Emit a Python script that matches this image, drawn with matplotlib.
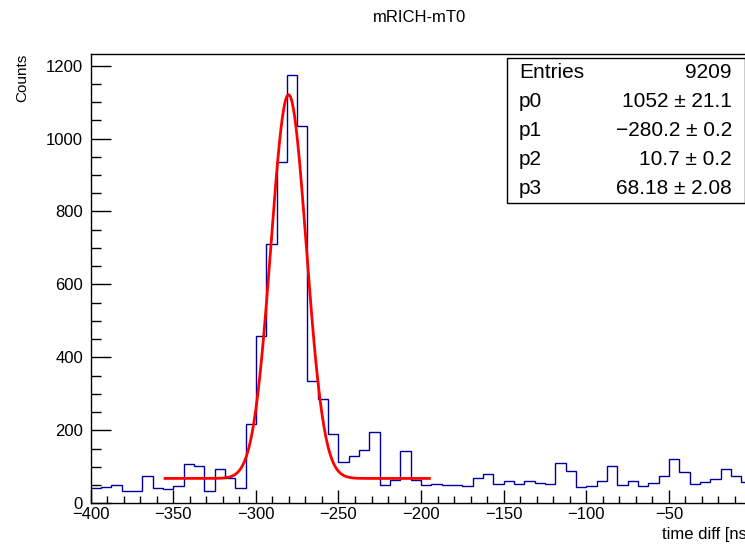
import numpy as np
import matplotlib.pyplot as plt
from matplotlib.ticker import MultipleLocator, FuncFormatter
from matplotlib.patches import Rectangle

plt.rcParams['font.family'] = ['Liberation Sans', 'DejaVu Sans']

# histogram: 64 bins of 6.25 ns between -400 and 0
bin_edges = np.linspace(-400, 0, 65)
counts = [41, 44, 49, 35, 35, 74, 43, 38, 47, 107, 102, 35, 95, 69, 43,
          217, 459, 710, 937, 1173, 1033, 336, 285, 189, 114, 130, 146, 195,
          50, 63, 144, 63, 49, 53, 50, 49, 47, 70, 80, 54, 61, 54, 60, 55, 53,
          111, 89, 45, 48, 61, 103, 50, 60, 47, 57, 75, 122, 86, 54, 58, 66,
          93, 75, 59]

# gaus + pol0 fit result
p0, p1, p2, p3 = 1052, -280.2, 10.7, 68.18
fit_range = (-355, -195)
stat_names = ['Entries', 'p0', 'p1', 'p2', 'p3']
stat_values = ['9209', '1052 ± 21.1', '−280.2 ± 0.2', '10.7 ± 0.2', '68.18 ± 2.08']

fig = plt.figure(figsize=(7.45, 5.44), dpi=100)
ax = fig.add_axes([0.1217, 0.0748, 0.887, 0.8259])

ax.stairs(counts, bin_edges, color='#000099', lw=1.0, baseline=None)

xf = np.linspace(fit_range[0], fit_range[1], 400)
yf = p0 * np.exp(-0.5 * ((xf - p1) / p2) ** 2) + p3
ax.plot(xf, yf, color='#ff0000', lw=2.0)

ax.set_xlim(-400, 0)
ax.set_ylim(0, 1.05 * max(counts))

ax.xaxis.set_major_locator(MultipleLocator(50))
ax.xaxis.set_minor_locator(MultipleLocator(10))
ax.xaxis.set_major_formatter(FuncFormatter(
    lambda v, pos: '' if v > -1 else f'{v:.0f}'.replace('-', '\u2212')))
ax.yaxis.set_major_locator(MultipleLocator(200))
ax.yaxis.set_minor_locator(MultipleLocator(50))
ax.tick_params(axis='both', which='both', direction='in', width=1.0,
               top=False, right=False, labelsize=12)
ax.tick_params(axis='x', which='major', length=9.4, pad=3)
ax.tick_params(axis='x', which='minor', length=5)
ax.tick_params(axis='y', which='major', length=14.4, pad=5.5)
ax.tick_params(axis='y', which='minor', length=7.2)
for s in ax.spines.values():
    s.set_linewidth(1.0)

fig.text(420 / 745, 1 - 17 / 544, 'mRICH-mT0', ha='center', va='center', fontsize=12)
fig.text(22 / 745, 1 - 54 / 544, 'Counts', rotation=90, ha='center', va='top', fontsize=11)
fig.text(751 / 745, 1 - 535 / 544, 'time diff [ns]', ha='right', va='center', fontsize=12)

# stats box
x0, x1 = 507 / 745, 744.5 / 745
y0, y1 = 1 - 203 / 544, 1 - 58 / 544
fig.patches.append(Rectangle((x0, y0), x1 - x0, y1 - y0, transform=fig.transFigure,
                             fill=True, facecolor='white', edgecolor='black', lw=1.0))
row_h = (y1 - y0) / len(stat_names)
for i, (name, val) in enumerate(zip(stat_names, stat_values)):
    yc = y1 - (i + 0.5) * row_h
    fig.text(519 / 745, yc, name, ha='left', va='center', fontsize=15)
    fig.text(732 / 745, yc, val, ha='right', va='center', fontsize=15)

fig.savefig('out.png', dpi=100)
